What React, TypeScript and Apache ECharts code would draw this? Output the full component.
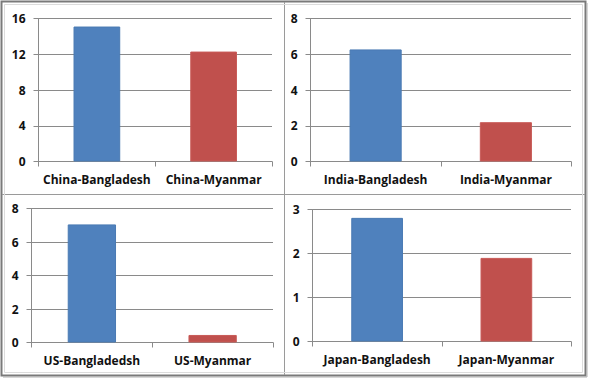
import React, { useEffect, useRef } from "react";
import * as echarts from "echarts";

const chinaCats = ["China-Bangladesh", "China-Myanmar"];
const chinaVals = [15.1, 12.3];
const indiaCats = ["India-Bangladesh", "India-Myanmar"];
const indiaVals = [6.27, 2.2];
const usCats = ["US-Bangladedsh", "US-Myanmar"];
const usVals = [7.05, 0.45];
const japanCats = ["Japan-Bangladesh", "Japan-Myanmar"];
const japanVals = [2.81, 1.9];

const yMax = [16, 8, 8, 3];
const yStep = [4, 2, 2, 1];

const BLUE = "#4F81BD";
const RED = "#C0504D";
const FONT = "'Open Sans', sans-serif";

export default function App() {
  const ref = useRef<HTMLDivElement>(null);
  useEffect(() => {
    if (!ref.current) return;
    const chart = echarts.init(ref.current, undefined, { renderer: "svg" });
    const grids = [
      { left: 38.5, right: 317, top: 18.5, bottom: 218.5 },
      { left: 310.5, right: 18, top: 18.5, bottom: 218.5 },
      { left: 31.5, right: 316, top: 208.5, bottom: 37.5 },
      { left: 312.5, right: 18, top: 209.5, bottom: 38.5 },
    ];
    const cats = [chinaCats, indiaCats, usCats, japanCats];
    const vals = [chinaVals, indiaVals, usVals, japanVals];
    const axisColor = "#8a8a8a";
    chart.setOption({
      animation: false,
      backgroundColor: "#ffffff",
      grid: grids.map((g) => ({ ...g, containLabel: false })),
      xAxis: cats.map((c, i) => ({
        type: "category",
        gridIndex: i,
        data: c,
        axisLine: { lineStyle: { color: axisColor, width: 1 } },
        axisTick: { show: true, length: 5, lineStyle: { color: axisColor } },
        axisLabel: {
          interval: 0,
          hideOverlap: false,
          color: "#111111",
          fontFamily: FONT,
          fontWeight: "bold",
          fontSize: 12,
          margin: 12,
        },
      })),
      yAxis: vals.map((_, i) => ({
        type: "value",
        gridIndex: i,
        min: 0,
        max: yMax[i],
        interval: yStep[i],
        axisLine: { show: true, lineStyle: { color: axisColor, width: 1 } },
        axisTick: { show: true, length: 5, lineStyle: { color: axisColor } },
        splitLine: { show: true, lineStyle: { color: axisColor, width: 1 } },
        axisLabel: {
          color: "#111111",
          fontFamily: FONT,
          fontWeight: "bold",
          fontSize: 12,
          margin: 13,
        },
      })),
      series: vals.map((v, i) => ({
        type: "bar",
        xAxisIndex: i,
        yAxisIndex: i,
        barCategoryGap: "60%",
        data: v.map((val, j) => ({
          value: val,
          itemStyle: {
            color: j === 0 ? BLUE : RED,
            borderColor: j === 0 ? "#4a7ab3" : "#c85a57",
            borderWidth: 1,
          },
        })),
      })),
      graphic: [
        {
          type: "rect",
          shape: { x: 1.5, y: 1.5, width: 584, height: 374 },
          style: { fill: "none", stroke: "#7a7a7a", lineWidth: 2 },
          silent: true,
        },
        {
          type: "line",
          shape: { x1: 587, y1: 3, x2: 587, y2: 377 },
          style: { stroke: "#b0b0b0", lineWidth: 1 },
          silent: true,
        },
        {
          type: "line",
          shape: { x1: 3, y1: 377, x2: 587, y2: 377 },
          style: { stroke: "#b0b0b0", lineWidth: 1 },
          silent: true,
        },
        {
          type: "line",
          shape: { x1: 284.5, y1: 2, x2: 284.5, y2: 375 },
          style: { stroke: "#9a9a9a", lineWidth: 1 },
          silent: true,
        },
        {
          type: "line",
          shape: { x1: 2, y1: 194.5, x2: 585, y2: 194.5 },
          style: { stroke: "#9a9a9a", lineWidth: 1 },
          silent: true,
        },
        {
          type: "rect",
          shape: { x: 4.5, y: 4.5, width: 578, height: 368 },
          style: { fill: "none", stroke: "#dcdcdc", lineWidth: 1 },
          silent: true,
        },
      ],
    });
    return () => chart.dispose();
  }, []);
  return (
    <div
      ref={ref}
      style={{
        position: "absolute",
        left: 0,
        top: 0,
        width: 589,
        height: 380,
        background: "#fff",
      }}
    />
  );
}
